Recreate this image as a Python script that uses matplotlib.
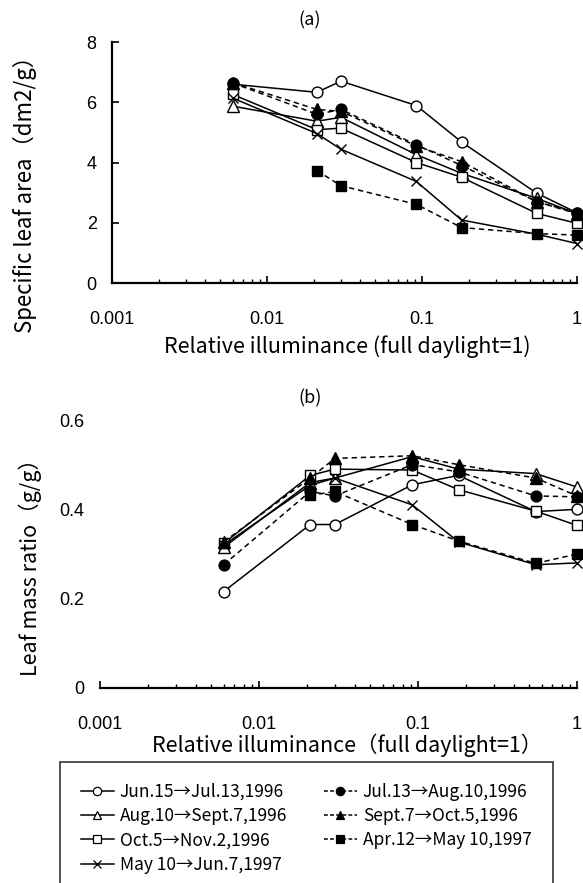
import numpy as np
import matplotlib
matplotlib.use("Agg")
import matplotlib.pyplot as plt
from matplotlib.lines import Line2D
from matplotlib.ticker import LogLocator, NullFormatter, FixedLocator, FixedFormatter

plt.rcParams["font.family"] = ["Liberation Sans", "DejaVu Sans"]
JP = ["Noto Sans CJK JP", "DejaVu Sans"]

# ---------------------------------------------------------------
# data
# ---------------------------------------------------------------
light = [0.006, 0.021, 0.03, 0.092, 0.18, 0.55, 1.0]
light_apr = [0.021, 0.03, 0.092, 0.18, 0.55, 1.0]

labels = ["Jun.15→Jul.13,1996", "Aug.10→Sept.7,1996", "Oct.5→Nov.2,1996",
          "May 10→Jun.7,1997", "Jul.13→Aug.10,1996", "Sept.7→Oct.5,1996",
          "Apr.12→May 10,1997"]

# (a) specific leaf area, dm2/g
sla_jun = [6.60, 6.33, 6.70, 5.89, 4.68, 2.98, 2.33]
sla_aug = [5.87, 5.37, 5.50, 4.26, 3.64, 2.81, 2.30]
sla_oct = [6.26, 5.09, 5.14, 4.00, 3.51, 2.31, 1.98]
sla_may = [6.14, 4.96, 4.44, 3.37, 2.09, 1.62, 1.31]
sla_jul = [6.64, 5.60, 5.76, 4.59, 3.90, 2.70, 2.33]
sla_sep = [6.65, 5.76, 5.70, 4.55, 4.03, 2.70, 2.30]
sla_apr = [3.73, 3.23, 2.61, 1.84, 1.64, 1.59]

# (b) leaf mass ratio, g/g
lmr_jun = [0.216, 0.366, 0.366, 0.455, 0.476, 0.395, 0.400]
lmr_aug = [0.315, 0.460, 0.470, 0.518, 0.490, 0.480, 0.450]
lmr_oct = [0.324, 0.476, 0.490, 0.488, 0.444, 0.396, 0.364]
lmr_may = [0.320, 0.454, 0.470, 0.410, 0.327, 0.276, 0.280]
lmr_jul = [0.276, 0.440, 0.430, 0.500, 0.484, 0.430, 0.428]
lmr_sep = [0.327, 0.470, 0.514, 0.520, 0.500, 0.470, 0.430]
lmr_apr = [0.431, 0.440, 0.366, 0.329, 0.279, 0.300]

# marker / line style for each series, in legend order
styles = [
    dict(marker="o", mfc="white", ls="-"),
    dict(marker="^", mfc="white", ls="-"),
    dict(marker="s", mfc="white", ls="-"),
    dict(marker="x", mfc="black", ls="-"),
    dict(marker="o", mfc="black", ls="--"),
    dict(marker="^", mfc="black", ls="--"),
    dict(marker="s", mfc="black", ls="--"),
]
DASH = (3.5, 2.5)

fig = plt.figure(figsize=(5.83, 8.83), dpi=100)
H = 883.0
W = 583.0


def box(x0, x1, ytop, ybot):
    return [x0 / W, 1 - ybot / H, (x1 - x0) / W, (ybot - ytop) / H]


def ftext(x, y, s, **kw):
    return fig.text(x / W, 1 - y / H, s, family=JP, ha="center", va="center", **kw)


ax1 = fig.add_axes(box(112, 577, 42, 283))
ax2 = fig.add_axes(box(100, 577, 420, 688))


def draw(ax, series):
    for (xs, ys), st in zip(series, styles):
        ms = {"o": 7.8, "^": 8.0, "s": 7.2, "x": 7.2}[st["marker"]]
        kw = dict(color="black", lw=1.1, marker=st["marker"], ms=ms,
                  mfc=st["mfc"], mec="black", mew=1.0, ls=st["ls"],
                  clip_on=False, zorder=3)
        if st["ls"] == "--":
            kw["dashes"] = DASH
        ax.plot(xs, ys, **kw)


def log_axis(ax):
    ax.set_xscale("log")
    ax.set_xlim(0.001, 1)
    ax.xaxis.set_major_locator(FixedLocator([0.001, 0.01, 0.1, 1]))
    ax.xaxis.set_major_formatter(FixedFormatter(["0.001", "0.01", "0.1", "1"]))
    ax.xaxis.set_minor_locator(LogLocator(base=10, subs=np.arange(2, 10)))
    ax.xaxis.set_minor_formatter(NullFormatter())
    ax.tick_params(axis="x", which="minor", direction="in", length=3, width=1.0)
    ax.tick_params(axis="x", which="major", direction="in", length=5, width=1.2,
                   labelsize=13, pad=20)


# ---------------------------------------------------------------
# (a)
# ---------------------------------------------------------------
draw(ax1, [(light, sla_jun), (light, sla_aug), (light, sla_oct), (light, sla_may),
           (light, sla_jul), (light, sla_sep), (light_apr, sla_apr)])
log_axis(ax1)
ax1.set_ylim(0, 8)
ax1.set_yticks([0, 2, 4, 6, 8])
ax1.set_yticklabels(["0", "2", "4", "6", "8"])
for s in ["top", "right"]:
    ax1.spines[s].set_visible(False)
for s in ["left", "bottom"]:
    ax1.spines[s].set_linewidth(1.6)
ax1.tick_params(axis="y", which="major", direction="in", length=5, width=1.2,
                labelsize=13, pad=11)
ftext(310, 20, "(a)", fontsize=13)
ftext(347, 347, "Relative illuminance (full daylight=1)", fontsize=15.5)
ftext(25, 189, "Specific leaf area（dm2/g）", fontsize=16, rotation=90)

# ---------------------------------------------------------------
# (b)
# ---------------------------------------------------------------
draw(ax2, [(light, lmr_jun), (light, lmr_aug), (light, lmr_oct), (light, lmr_may),
           (light, lmr_jul), (light, lmr_sep), (light_apr, lmr_apr)])
log_axis(ax2)
ax2.set_ylim(0, 0.6)
ax2.set_yticks([0, 0.2, 0.4, 0.6])
ax2.set_yticklabels(["0", "0.2", "0.4", "0.6"])
for s in ["top", "right", "left"]:
    ax2.spines[s].set_visible(False)
ax2.spines["bottom"].set_linewidth(1.6)
ax2.tick_params(axis="y", which="major", length=0, labelsize=13, pad=11)
ftext(310, 398, "(b)", fontsize=13)
ftext(347, 745, "Relative illuminance（full daylight=1）", fontsize=15.5)
ftext(30, 562, "Leaf mass ratio（g/g）", fontsize=15.5, rotation=90)

# ---------------------------------------------------------------
# legend (box runs off the bottom of the figure)
# ---------------------------------------------------------------
handles = []
for st in styles:
    kw = dict(color="black", lw=1.1, marker=st["marker"], ms=6,
              mfc=st["mfc"], mec="black", mew=0.9, ls=st["ls"])
    if st["ls"] == "--":
        kw["dashes"] = (2.5, 1.5)
    handles.append(Line2D([], [], **kw))

leg = fig.legend(handles, labels, ncol=2, loc="upper left",
                 bbox_to_anchor=(60 / W, 1 - 762 / H),
                 prop={"family": JP, "size": 12.5}, frameon=True, fancybox=False,
                 edgecolor="black", handlelength=1.9, handletextpad=0.35,
                 columnspacing=2.1, labelspacing=0.36, borderpad=1.2,
                 borderaxespad=0)
leg.get_frame().set_linewidth(1.2)

fig.savefig("out.png", dpi=100)
